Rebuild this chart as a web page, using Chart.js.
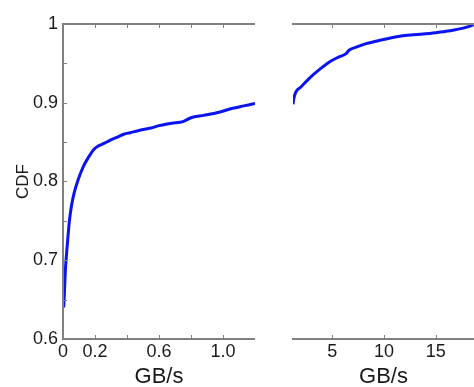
<!DOCTYPE html>
<html>
<head>
<meta charset="utf-8">
<script src="https://cdn.jsdelivr.net/npm/chart.js@4"></script>
<style>
  html, body { margin: 0; padding: 0; background: #ffffff; }
  body { width: 474px; height: 387px; position: relative; overflow: hidden; }
  #wl { position: absolute; left: 0; top: 0; width: 270px; height: 387px; }
  #wr { position: absolute; left: 280px; top: 0; width: 194px; height: 387px; }
</style>
</head>
<body>
<div id="wl"><canvas id="cl"></canvas></div>
<div id="wr"><canvas id="cr"></canvas></div>
<script>
// ---- data ----
const leftX = [0.004, 0.007, 0.01, 0.015, 0.027, 0.04, 0.052, 0.069, 0.094, 0.127, 0.16, 0.19, 0.22, 0.252, 0.29, 0.335, 0.38, 0.42, 0.48, 0.55, 0.6, 0.68, 0.75, 0.8, 0.88, 0.975, 1.06, 1.13, 1.2];
const leftCDF = [0.64, 0.65, 0.665, 0.688, 0.72, 0.75, 0.768, 0.785, 0.802, 0.819, 0.831, 0.840, 0.845, 0.848, 0.852, 0.856, 0.860, 0.862, 0.865, 0.868, 0.871, 0.874, 0.876, 0.881, 0.884, 0.888, 0.893, 0.896, 0.899];
const rightX = [1.2, 1.25, 1.35, 1.49, 1.97, 2.77, 3.74, 4.87, 5.6, 6.3, 6.65, 7.4, 8.26, 9.2, 10.2, 11.8, 13.5, 15.0, 16.2, 17.0, 18.0, 18.65];
const rightCDF = [0.898, 0.903, 0.909, 0.914, 0.920, 0.931, 0.942, 0.953, 0.958, 0.962, 0.967, 0.971, 0.975, 0.978, 0.981, 0.985, 0.987, 0.989, 0.991, 0.993, 0.996, 0.999];

const yTicks = [0.6, 0.65, 0.7, 0.75, 0.8, 0.85, 0.9, 0.95, 1.0];
const yLabels = ['0.6', '', '0.7', '', '0.8', '', '0.9', '', '1'];
const xTicksLeft = [0, 0.2, 0.4, 0.6, 0.8, 1.0, 1.2];
const xLabelsLeft = ['0', '0.2', '', '0.6', '', '1.0', ''];
const xTicksRight = [5, 10, 15];
const xLabelsRight = ['5', '10', '15'];
const xTitle = 'GB/s';
const yTitle = 'CDF';

const AXIS = '#808080';
const TXT = '#1a1a1a';
const FONT = "'Liberation Sans', Arial, sans-serif";

function pts(xs, ys) { return xs.map((x, i) => ({ x: x, y: ys[i] })); }

const framePlugin = {
  id: 'frame',
  afterDatasetsDraw(chart, args, opts) {
    const { ctx, chartArea: a, scales } = chart;
    ctx.save();
    ctx.strokeStyle = AXIS;
    ctx.lineWidth = 1;
    ctx.beginPath();
    const tl = 4;
    (opts.xTickVals || []).forEach(v => {
      const px = Math.round(scales.x.getPixelForValue(v)) + 0.5;
      ctx.moveTo(px, a.bottom); ctx.lineTo(px, a.bottom - tl);
      ctx.moveTo(px, a.top); ctx.lineTo(px, a.top + tl);
    });
    if (opts.left) {
      yTicks.forEach(v => {
        const py = Math.round(scales.y.getPixelForValue(v)) + 0.5;
        ctx.moveTo(a.left, py); ctx.lineTo(a.left + tl, py);
      });
    }
    ctx.stroke();
    ctx.lineWidth = 2;
    ctx.beginPath();
    ctx.moveTo(a.left - 1, a.top); ctx.lineTo(a.right, a.top);
    ctx.moveTo(a.left - 1, a.bottom); ctx.lineTo(a.right, a.bottom);
    if (opts.left) { ctx.moveTo(a.left, a.top); ctx.lineTo(a.left, a.bottom); }
    ctx.stroke();
    ctx.restore();
  }
};

function makeChart(id, xs, ys, xmin, xmax, xTickVals, xLabs, isLeft) {
  return new Chart(document.getElementById(id), {
    type: 'line',
    data: {
      datasets: [{
        data: pts(xs, ys),
        borderColor: '#0a14f0',
        borderWidth: 3,
        pointRadius: 0,
        fill: false,
        cubicInterpolationMode: 'monotone'
      }]
    },
    plugins: [framePlugin],
    options: {
      responsive: true,
      maintainAspectRatio: false,
      animation: false,
      events: [],
      layout: { padding: isLeft ? { top: 24, right: 15, left: 0, bottom: 0 } : { top: 24, right: 0, left: 13, bottom: 0 } },
      plugins: {
        legend: { display: false },
        tooltip: { enabled: false },
        frame: { left: isLeft, xTickVals: isLeft ? xTickVals.slice(1, -1) : xTickVals }
      },
      scales: {
        x: {
          type: 'linear',
          min: xmin, max: xmax,
          afterBuildTicks: s => { s.ticks = xTickVals.map(v => ({ value: v })); },
          afterFit: s => { s.height = 48; },
          grid: { display: false, drawTicks: false },
          border: { display: false },
          ticks: {
            padding: 2,
            color: TXT,
            font: { family: FONT, size: 18 },
            maxRotation: 0,
            autoSkip: false,
            callback: (v, i) => xLabs[i]
          },
          title: {
            display: true, text: xTitle, color: TXT,
            font: { family: FONT, size: 22, lineHeight: 0.9 },
            padding: { top: 0, bottom: 0 }
          }
        },
        y: {
          type: 'linear',
          display: isLeft,
          min: 0.6, max: 1.0,
          afterBuildTicks: s => { s.ticks = yTicks.map(v => ({ value: v })); },
          afterFit: s => { s.width = isLeft ? 63 : 0; },
          grid: { display: false, drawTicks: false },
          border: { display: false },
          ticks: {
            padding: 5,
            color: TXT,
            font: { family: FONT, size: 18 },
            autoSkip: false,
            callback: (v, i) => yLabels[i]
          },
          title: {
            display: true, text: yTitle, color: TXT,
            font: { family: FONT, size: 17 },
            padding: { top: 13, bottom: 0 }
          }
        }
      }
    }
  });
}

makeChart('cl', leftX, leftCDF, 0, 1.2, xTicksLeft, xLabelsLeft, true);
makeChart('cr', rightX, rightCDF, 1.2, 18.7, xTicksRight, xLabelsRight, false);
</script>
</body>
</html>
